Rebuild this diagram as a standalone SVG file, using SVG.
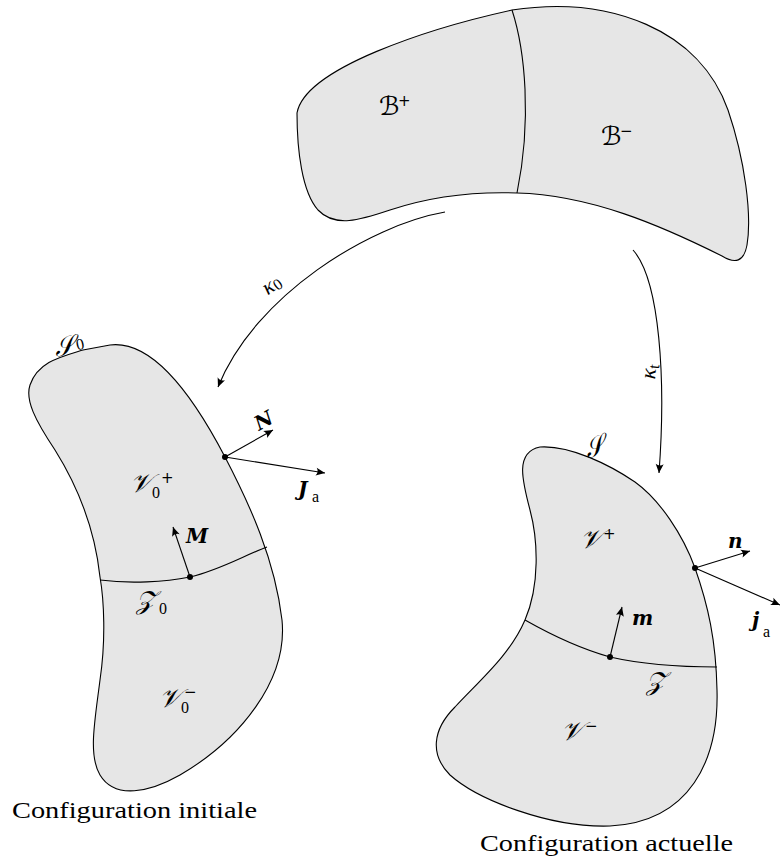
<svg xmlns="http://www.w3.org/2000/svg" width="780" height="865" viewBox="0 0 780 865">
<style>
.body{fill:#e6e6e6;stroke:#000;stroke-width:1.1}
.line{fill:none;stroke:#000;stroke-width:1.1}
.arr{fill:none;stroke:#000;stroke-width:1.1;marker-end:url(#ah)}
.scr{font-family:"DejaVu Serif","DejaVu Sans",serif;font-style:italic;font-size:26px}
.rm{font-family:"Liberation Serif",serif;font-style:normal;font-weight:normal;font-size:16px}
.sup{font-family:"DejaVu Sans",sans-serif;font-style:normal;font-weight:normal;font-size:15px}
.vec{font-family:"DejaVu Serif",serif;font-weight:bold;font-style:italic;font-size:20px}
.gr{font-family:"Liberation Serif",serif;font-style:italic;font-size:22px}
.cap{font-family:"Liberation Serif",serif;font-size:24px}
</style>
<defs>
<marker id="ah" viewBox="-10 -5 11 10" refX="0" refY="0" markerWidth="11" markerHeight="10" orient="auto" markerUnits="userSpaceOnUse">
<path d="M0,0 L-9,-4 Q-6,0 -9,4 Z" fill="#000"/>
</marker>
</defs>

<g id="body-B">
<path class="body" d="M297,113 C305,68 430,28 512,10 C610,-5 700,30 728,110 C745,160 752,215 747,245 C744,262 735,264 722,256 C660,225 590,195 517,193 C460,191 420,200 390,210 C360,220 335,228 318,210 C302,192 297,150 297,113 Z"/>
<path class="line" d="M512,10 C525,50 532,120 517,193"/>
<text class="scr" x="379" y="115">ℬ</text>
<text class="sup" x="398" y="106">+</text>
<text class="scr" x="601" y="145">ℬ</text>
<text class="sup" x="620" y="136">−</text>
</g>

<g id="config-initiale">
<path class="body" d="M110,345 C150,340 190,390 225,457 C250,505 275,560 282,620 C288,680 240,740 180,775 C150,792 115,800 100,775 C88,755 95,720 100,680 C106,640 104,600 100,577 C95,530 80,490 55,450 C35,420 25,400 30,385 C38,362 60,357 83,350 L110,345 Z"/>
<path class="line" d="M100,580 C130,584 165,582 190,577 C220,570 245,555 267,547"/>
<text class="scr" x="54" y="354" transform="rotate(-12 68 345)">𝒮</text>
<text class="rm" x="76" y="352" transform="rotate(-12 68 345)">0</text>
<text class="scr" x="130" y="492">𝒱</text>
<text class="rm" x="152" y="498">0</text>
<text class="sup" x="161" y="483">+</text>
<text class="scr" x="136" y="609">𝒵</text>
<text class="rm" x="159" y="614">0</text>
<text class="scr" x="159" y="707">𝒱</text>
<text class="rm" x="181" y="713">0</text>
<text class="sup" x="184" y="697">−</text>
<circle cx="190" cy="577" r="3"/>
<circle cx="225" cy="457" r="3"/>
<path class="arr" d="M190,577 L173,527"/>
<path class="arr" d="M225,457 L273,430"/>
<path class="arr" d="M225,457 L325,473"/>
<text class="vec" x="186" y="543">M</text>
<text class="vec" x="252" y="426" transform="rotate(-29 265 415)">N</text>
<text class="vec" x="298" y="496">J</text>
<text class="rm" x="312" y="502">a</text>
<text class="cap" x="12" y="818" textLength="245" lengthAdjust="spacingAndGlyphs">Configuration initiale</text>
</g>

<g id="config-actuelle">
<path class="body" d="M540,447 C570,445 610,465 635,482 C660,500 683,535 695,568 C708,605 716,640 717,690 C719,760 690,822 610,826 C550,828 478,800 450,775 C430,755 432,730 455,707 C480,680 510,655 525,620 C540,585 538,540 530,510 C522,480 515,452 540,447 Z"/>
<path class="line" d="M525,620 C555,637 585,650 610,657 C645,665 685,667 717,667"/>
<text class="scr" x="584" y="454" transform="rotate(-22 599 445)">𝒮</text>
<text class="scr" x="580" y="548">𝒱</text>
<text class="sup" x="603" y="539">+</text>
<text class="scr" x="646" y="690">𝒵</text>
<text class="scr" x="561" y="740">𝒱</text>
<text class="sup" x="585" y="731">−</text>
<circle cx="610" cy="657" r="3"/>
<circle cx="695" cy="568" r="3"/>
<path class="arr" d="M610,657 L622,607"/>
<path class="arr" d="M695,568 L750,551"/>
<path class="arr" d="M695,568 L780,605"/>
<text class="vec" x="632" y="625">m</text>
<text class="vec" x="728" y="548">n</text>
<text class="vec" x="752" y="627">j</text>
<text class="rm" x="763" y="637">a</text>
<text class="cap" x="480" y="851" textLength="253" lengthAdjust="spacingAndGlyphs">Configuration actuelle</text>
</g>

<g id="connectors">
<path class="arr" d="M445,212 C370,225 255,295 218,387"/>
<path class="arr" d="M633,250 C660,280 666,380 659,473"/>
<text class="gr" x="262" y="291" transform="rotate(-35 272 284)">κ<tspan class="rm" dy="2">0</tspan></text>
<text class="gr" x="639" y="376" transform="rotate(-85 649 369)">κ<tspan class="rm" dy="3" font-size="15">t</tspan></text>
</g>
</svg>
